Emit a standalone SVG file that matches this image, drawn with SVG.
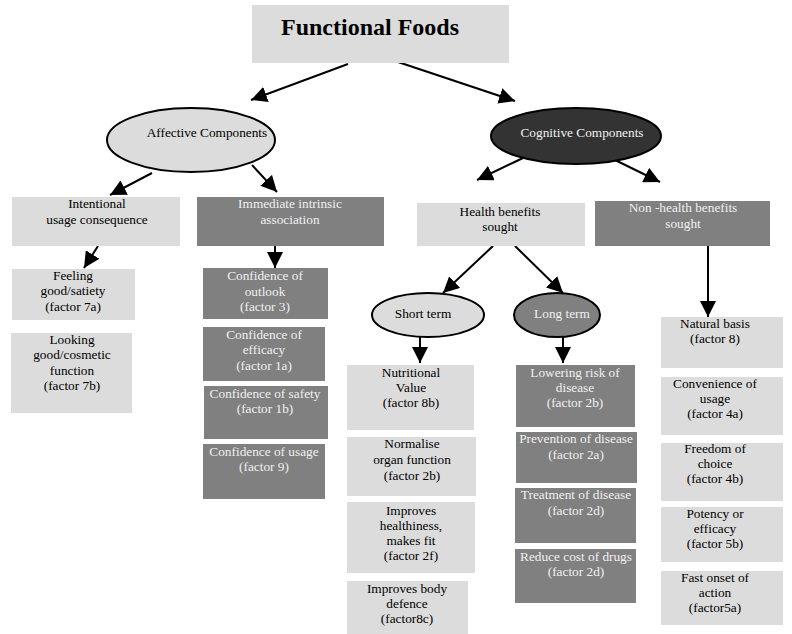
<svg xmlns="http://www.w3.org/2000/svg" width="792" height="634" viewBox="0 0 792 634" font-family="'Liberation Serif', 'Times New Roman', 'DejaVu Serif', serif">
<defs>
<marker id="ah" markerUnits="userSpaceOnUse" markerWidth="18" markerHeight="16" refX="16" refY="8" orient="auto">
<path d="M0,0 L16,8 L0,16 z" fill="#000"/>
</marker>
<style>
.lt{fill:#dcdcdc}
.dk{fill:#808080}
text{font-family:'Liberation Serif','Times New Roman','DejaVu Serif',serif}
.t{font-size:13.3px;text-anchor:middle;fill:#000}
.tw{font-size:13.3px;text-anchor:middle;fill:#f0f0f0}
.c{stroke:#000;stroke-width:2;fill:none;marker-end:url(#ah)}
.el{stroke:#000;stroke-width:2}
</style>
</defs>
<rect width="792" height="634" fill="#fff"/>

<g id="connectors">
<line class="c" x1="348" y1="64" x2="251" y2="100"/>
<line class="c" x1="398" y1="62" x2="515" y2="101"/>
<line class="c" x1="152" y1="173" x2="110" y2="195"/>
<line class="c" x1="252" y1="165" x2="277" y2="192"/>
<line class="c" x1="523" y1="158" x2="477" y2="180"/>
<line class="c" x1="615" y1="160" x2="660" y2="182"/>
<line class="c" x1="98" y1="246" x2="84" y2="268"/>
<line class="c" x1="275" y1="246" x2="275" y2="268"/>
<line class="c" x1="493" y1="246" x2="443" y2="293"/>
<line class="c" x1="515" y1="246" x2="563" y2="293"/>
<line class="c" x1="420" y1="337" x2="420" y2="363"/>
<line class="c" x1="563" y1="337" x2="563" y2="363"/>
<line class="c" x1="708" y1="246" x2="708" y2="317"/>
</g>

<g id="functional-foods">
<rect class="lt" x="252" y="5" width="257" height="58"/>
<text x="370" y="35" font-size="24" font-weight="bold" text-anchor="middle">Functional Foods</text>
</g>

<g id="affective">
<ellipse class="el" cx="191" cy="140" rx="84" ry="32" fill="#dcdcdc"/>
<text class="t" x="207" y="137">Affective Components</text>
</g>

<g id="cognitive">
<ellipse class="el" cx="576" cy="136" rx="85" ry="28" fill="#333"/>
<text class="tw" x="582" y="137">Cognitive Components</text>
</g>

<g id="intentional">
<rect class="lt" x="12" y="197" width="168" height="49"/>
<text class="t" x="97" y="208">Intentional</text>
<text class="t" x="97" y="224">usage consequence</text>
</g>

<g id="immediate">
<rect class="dk" x="197" y="197" width="187" height="49"/>
<text class="tw" x="290" y="208">Immediate intrinsic</text>
<text class="tw" x="290" y="224">association</text>
</g>

<g id="health">
<rect class="lt" x="417" y="203" width="168" height="43"/>
<text class="t" x="500" y="216">Health benefits</text>
<text class="t" x="500" y="231">sought</text>
</g>

<g id="nonhealth">
<rect class="dk" x="595" y="201" width="175" height="45"/>
<text class="tw" x="683" y="212">Non -health benefits</text>
<text class="tw" x="683" y="228">sought</text>
</g>

<g id="feeling">
<rect class="lt" x="12" y="269" width="123" height="51"/>
<text class="t" x="73" y="280">Feeling</text>
<text class="t" x="73" y="295">good/satiety</text>
<text class="t" x="73" y="311">(factor 7a)</text>
</g>

<g id="looking">
<rect class="lt" x="11" y="333" width="121" height="80"/>
<text class="t" x="72" y="344">Looking</text>
<text class="t" x="72" y="359">good/cosmetic</text>
<text class="t" x="72" y="375">function</text>
<text class="t" x="72" y="390">(factor 7b)</text>
</g>

<g id="conf-outlook">
<rect class="dk" x="203" y="268" width="125" height="51"/>
<text class="tw" x="265" y="280">Confidence of</text>
<text class="tw" x="265" y="296">outlook</text>
<text class="tw" x="265" y="311">(factor 3)</text>
</g>

<g id="conf-efficacy">
<rect class="dk" x="203" y="327" width="122" height="54"/>
<text class="tw" x="264" y="339">Confidence of</text>
<text class="tw" x="264" y="354">efficacy</text>
<text class="tw" x="264" y="370">(factor 1a)</text>
</g>

<g id="conf-safety">
<rect class="dk" x="204" y="386" width="124" height="53"/>
<text class="tw" x="265" y="398">Confidence of safety</text>
<text class="tw" x="265" y="413">(factor 1b)</text>
</g>

<g id="conf-usage">
<rect class="dk" x="203" y="444" width="122" height="55"/>
<text class="tw" x="264" y="456">Confidence of usage</text>
<text class="tw" x="264" y="471">(factor 9)</text>
</g>

<g id="short-term">
<ellipse class="el" cx="428" cy="315" rx="56" ry="22" fill="#dcdcdc"/>
<text class="t" x="423" y="318">Short term</text>
</g>

<g id="long-term">
<ellipse class="el" cx="557" cy="315" rx="43" ry="22" fill="#808080"/>
<text class="tw" x="562" y="318">Long term</text>
</g>

<g id="nutritional">
<rect class="lt" x="347" y="365" width="127" height="65"/>
<text class="t" x="411" y="377">Nutritional</text>
<text class="t" x="411" y="392">Value</text>
<text class="t" x="411" y="407">(factor 8b)</text>
</g>

<g id="normalise">
<rect class="lt" x="347" y="437" width="129" height="59"/>
<text class="t" x="412" y="448">Normalise</text>
<text class="t" x="412" y="464">organ function</text>
<text class="t" x="412" y="480">(factor 2b)</text>
</g>

<g id="healthiness">
<rect class="lt" x="347" y="502" width="128" height="71"/>
<text class="t" x="411" y="515">Improves</text>
<text class="t" x="411" y="530">healthiness,</text>
<text class="t" x="411" y="545">makes fit</text>
<text class="t" x="411" y="560">(factor 2f)</text>
</g>

<g id="defence">
<rect class="lt" x="347" y="581" width="121" height="53"/>
<text class="t" x="407" y="593">Improves body</text>
<text class="t" x="407" y="608">defence</text>
<text class="t" x="407" y="623">(factor8c)</text>
</g>

<g id="lowering">
<rect class="dk" x="516" y="365" width="119" height="62"/>
<text class="tw" x="575" y="377">Lowering risk of</text>
<text class="tw" x="575" y="392">disease</text>
<text class="tw" x="575" y="407">(factor 2b)</text>
</g>

<g id="prevention">
<rect class="dk" x="516" y="432" width="121" height="51"/>
<text class="tw" x="576" y="443">Prevention of disease</text>
<text class="tw" x="576" y="459">(factor 2a)</text>
</g>

<g id="treatment">
<rect class="dk" x="515" y="488" width="121" height="55"/>
<text class="tw" x="576" y="499">Treatment of disease</text>
<text class="tw" x="576" y="515">(factor 2d)</text>
</g>

<g id="reduce-cost">
<rect class="dk" x="515" y="549" width="121" height="54"/>
<text class="tw" x="576" y="561">Reduce cost of drugs</text>
<text class="tw" x="576" y="576">(factor 2d)</text>
</g>

<g id="natural">
<rect class="lt" x="661" y="317" width="122" height="51"/>
<text class="t" x="715" y="328">Natural basis</text>
<text class="t" x="715" y="343">(factor 8)</text>
</g>

<g id="convenience">
<rect class="lt" x="661" y="377" width="122" height="58"/>
<text class="t" x="715" y="388">Convenience of</text>
<text class="t" x="715" y="403">usage</text>
<text class="t" x="715" y="418">(factor 4a)</text>
</g>

<g id="freedom">
<rect class="lt" x="661" y="443" width="122" height="58"/>
<text class="t" x="715" y="453">Freedom of</text>
<text class="t" x="715" y="468">choice</text>
<text class="t" x="715" y="483">(factor 4b)</text>
</g>

<g id="potency">
<rect class="lt" x="661" y="507" width="122" height="55"/>
<text class="t" x="715" y="518">Potency or</text>
<text class="t" x="715" y="533">efficacy</text>
<text class="t" x="715" y="548">(factor 5b)</text>
</g>

<g id="fast-onset">
<rect class="lt" x="661" y="571" width="122" height="54"/>
<text class="t" x="715" y="582">Fast onset of</text>
<text class="t" x="715" y="597">action</text>
<text class="t" x="715" y="612">(factor5a)</text>
</g>
</svg>
